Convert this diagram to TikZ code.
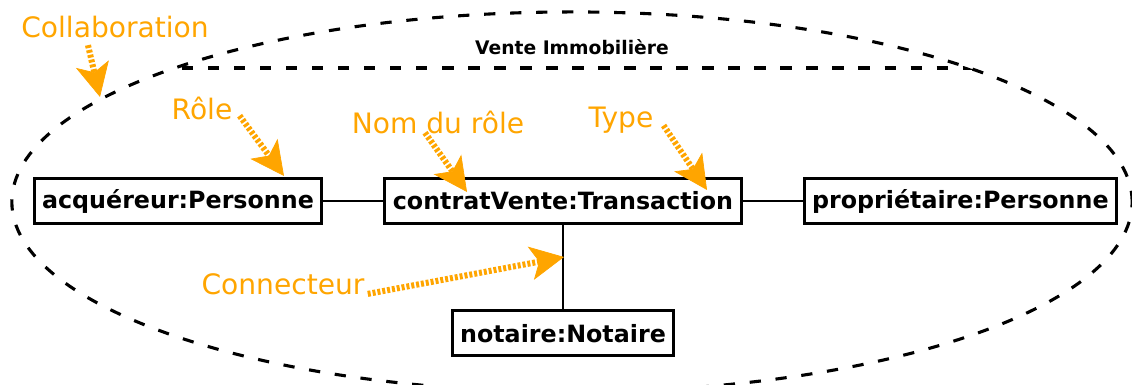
\documentclass[tikz,border=0pt]{standalone}
\usepackage{fontspec}
\setmainfont{DejaVu Sans}
\usepackage{tikz}
\usetikzlibrary{arrows.meta,positioning}
\usepackage{xcolor}
\definecolor{corange}{HTML}{FFA500}

\begin{document}
\begin{tikzpicture}[
  x=0.025cm, y=-0.025cm,
  obj/.style={draw, line width=2.1pt, minimum height=1.13cm, inner xsep=0.2cm,
              font=\fontsize{16.9}{20}\selectfont\bfseries},
  link/.style={line width=1.4pt},
  frame/.style={line width=2.2pt, dash pattern=on 8pt off 10.5pt},
  note/.style={text=corange, inner sep=0pt, font=\fontsize{20}{24}\selectfont},
  hint/.style={draw=corange, line width=4.3pt, dash pattern=on 2.1pt off 1.4pt,
               -{Stealth[length=24pt, width=24pt, inset=6pt, line width=0.5pt, fill=corange]}}
]
\useasboundingbox (0,0) rectangle (1132,385);

\draw[frame] (572,202) ellipse [x radius=14cm, y radius=4.75cm];
\begin{scope}
  \clip (572,202) ellipse [x radius=14cm, y radius=4.75cm];
  \draw[frame] (0,68) -- (1132,68);
\end{scope}
\node[font=\fontsize{13.3}{16}\selectfont\bfseries] (titre) at (572,47) {Vente Immobilière};

\node[obj] (contrat) at (563,201) {contratVente:Transaction};
\node[obj, left=1.5cm of contrat] (acq) {acquéreur:Personne};
\node[obj, right=1.5cm of contrat] (prop) {propriétaire:Personne};
\node[obj, below=2.1cm of contrat] (notaire) {notaire:Notaire};

\draw[link] (acq) -- (contrat);
\draw[link] (contrat) -- (prop);
\draw[link] (contrat) -- (notaire);

\node[note] (lcollab) at (115,27) {Collaboration};
\node[note] (lrole) at (202,108) {Rôle};
\node[note] (lnom) at (438,122) {Nom du rôle};
\node[note] (ltype) at (621,120) {Type};
\node[note] (lconn) at (283,284) {Connecteur};

\coordinate (tcollab) at (100,97);
\coordinate (trole) at (284,176);
\coordinate (tnom) at (467,192);
\coordinate (ttype) at (707,190);
\coordinate (tconn) at (564,257);

\draw[hint] ([shift={(-27,7)}]lcollab.south) -- (tcollab);
\draw[hint] ([shift={(7,-4)}]lrole.south east) -- (trole);
\draw[hint] ([shift={(-13,-1)}]lnom.south) -- (tnom);
\draw[hint] ([shift={(10,-8)}]ltype.south east) -- (ttype);
\draw[hint] ([shift={(3,-1)}]lconn.south east) -- (tconn);
\end{tikzpicture}
\end{document}
